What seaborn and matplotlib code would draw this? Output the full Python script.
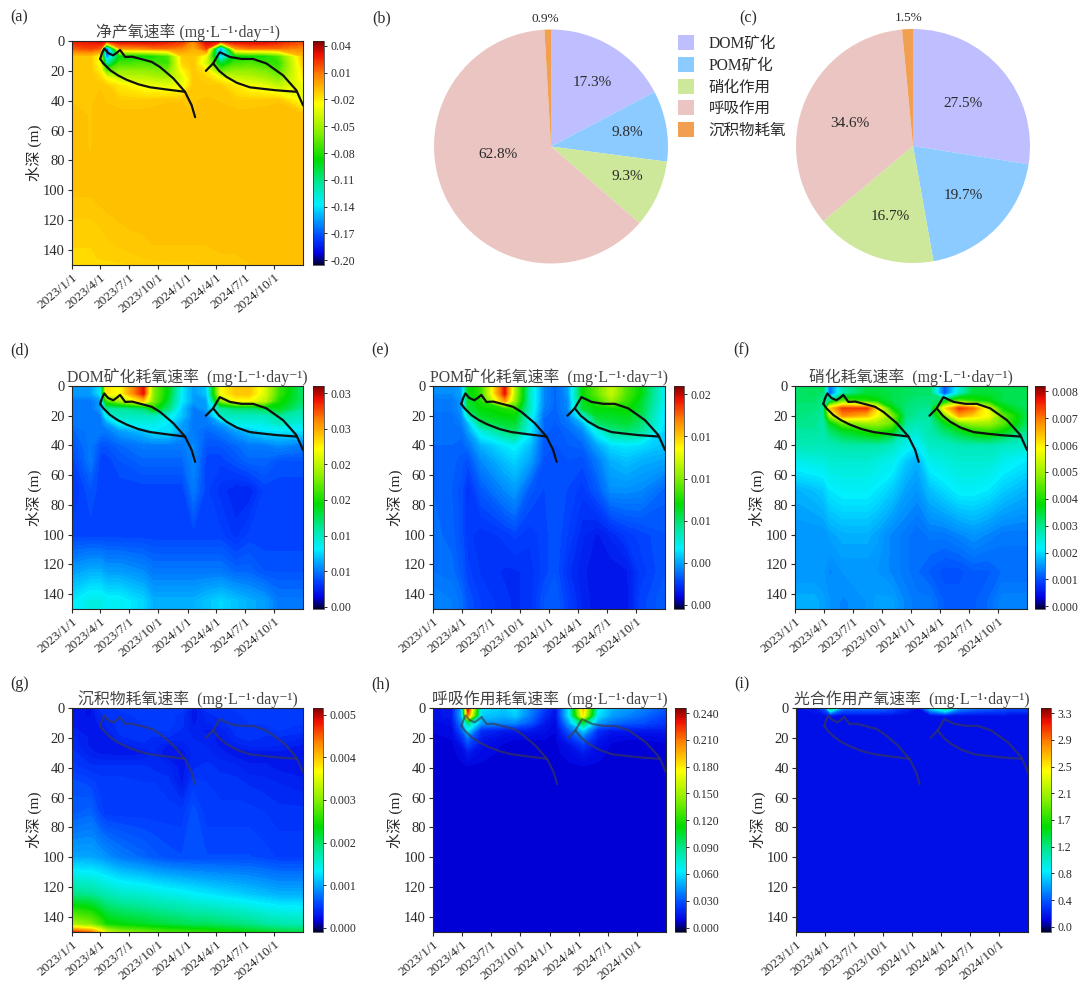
import numpy as np
import pandas as pd
import matplotlib
matplotlib.use("Agg")
import matplotlib.pyplot as plt
import seaborn as sns
from matplotlib.cm import ScalarMappable
from matplotlib.colors import LinearSegmentedColormap, Normalize

# grid the rates were read on
sample_dates = ["2023-01-01", "2023-03-01", "2023-04-01", "2023-04-20", "2023-06-01", "2023-08-15",
                "2023-09-15", "2023-11-01", "2023-12-15", "2024-01-20", "2024-03-01", "2024-04-15",
                "2024-06-01", "2024-07-15", "2024-09-01", "2024-10-15", "2024-12-31"]
depths = [0, 5, 10, 15, 20, 25, 30, 40, 50, 70, 100, 125, 145, 150]

tick_dates = ["2023-01-01", "2023-04-01", "2023-07-01", "2023-10-01",
              "2024-01-01", "2024-04-01", "2024-07-01", "2024-10-01"]
tick_labels = ["2023/1/1", "2023/4/1", "2023/7/1", "2023/10/1",
               "2024/1/1", "2024/4/1", "2024/7/1", "2024/10/1"]
depth_ticks = [0, 20, 40, 60, 80, 100, 120, 140]

# (a) net oxygen production, 0.001 mg/L/day
net_rate = [
    [28, 30, 35, 35, 35, 35, 35, 30, 25, 5, 35, 38, 35, 35, 35, 30, 20],
    [15, 20, 15, -185, 0, 5, 10, 10, 5, -5, 20, -170, 0, 10, 10, 10, 5],
    [-10, -10, -30, -170, -90, -88, -85, -70, -12, -10, -30, -150, -90, -88, -85, -70, -8],
    [-12, -11, -30, -120, -72, -70, -72, -75, -15, -11, -40, -100, -72, -70, -75, -78, -12],
    [-12, -11, -22, -70, -55, -55, -58, -60, -25, -11, -20, -65, -55, -55, -60, -70, -18],
    [-12, -11, -15, -25, -40, -42, -45, -48, -35, -11, -14, -25, -40, -42, -48, -58, -22],
    [-11, -11, -10, -12, -20, -28, -30, -32, -30, -11, -12, -12, -20, -28, -32, -42, -30],
    [-10, -10, -9, -10, -12, -12, -11, -10, -10, -10, -9, -10, -12, -12, -11, -10, -28],
    [-8, -10, -8, -8, -8, -8, -8, -8, -8, -10, -8, -8, -8, -8, -8, -8, -8],
    [-8, -10, -8, -8, -8, -8, -8, -8, -8, -9, -8, -8, -8, -8, -8, -8, -8],
    [-9, -9, -8, -8, -8, -8, -8, -8, -8, -8, -8, -8, -8, -8, -8, -8, -8],
    [-13, -13, -12, -11, -10, -9, -8, -8, -8, -8, -8, -8, -8, -8, -8, -8, -8],
    [-15, -15, -14, -14, -13, -12, -11, -11, -11, -11, -11, -10, -10, -9, -8, -8, -8],
    [-16, -16, -15, -15, -15, -14, -14, -13, -13, -13, -12, -12, -11, -10, -9, -9, -9],
]
# (d) DOM mineralisation, 0.001 mg/L/day
dom_rate = [
    [6, 6, 8, 23, 22, 29, 18, 14, 8, 6, 7, 22, 24, 24, 21, 16, 12],
    [6, 6, 8, 23, 22, 29, 18, 14, 8, 6, 7, 22, 24, 24, 21, 16, 12],
    [5, 5, 6, 16, 19, 24, 18, 13, 8, 6, 6, 18, 22, 22, 20, 15, 12],
    [5, 5, 6, 11, 11, 12, 15, 12, 7, 5, 6, 11, 12, 12, 13, 14, 11],
    [5, 5, 5, 8.5, 10, 10, 10, 9, 7, 5, 5, 10, 10, 10, 10, 11, 10],
    [5, 5, 5, 6, 8.5, 9, 9, 8, 6, 5, 5, 6, 9, 9, 9, 10, 9],
    [4.5, 5, 5, 5, 6, 7, 8, 8, 6, 5, 4.5, 5, 6, 7, 8, 8, 8],
    [4, 5, 4, 4, 4.5, 5, 5, 5, 5, 5.5, 4, 4, 4.5, 5, 5, 5.5, 5],
    [3.5, 5, 3.5, 3.5, 4, 4.5, 4.5, 4.5, 4.5, 5.5, 3.5, 3.5, 4, 4.5, 4.5, 4, 4],
    [3, 4, 3.5, 3.5, 3.5, 3.5, 3.5, 3.5, 3.5, 5, 3.5, 3, 2.6, 2.6, 3.5, 3.5, 3.5],
    [3.5, 3.5, 3.5, 3.5, 3.5, 3.5, 3.5, 3.5, 3.5, 3.5, 3.5, 3.5, 3, 3.5, 3.5, 3.5, 3.5],
    [6, 6.5, 6.5, 6, 6, 5.5, 5, 5, 5, 5, 5, 5, 4.5, 4.5, 4, 4, 4],
    [8, 9, 9, 8.5, 8.5, 7.5, 6.5, 6.5, 6.5, 6.5, 7, 7.5, 7, 6.5, 6, 5, 5],
    [8, 9, 9, 8.5, 8.5, 7.5, 6.5, 6.5, 6.5, 6.5, 7, 7.5, 7, 6.5, 6, 5, 5],
]
# (e) POM mineralisation, 0.0001 mg/L/day
pom_rate = [
    [35, 35, 40, 90, 105, 195, 130, 65, 35, 28, 38, 95, 115, 135, 110, 95, 55],
    [35, 35, 40, 90, 105, 195, 130, 65, 35, 28, 38, 95, 115, 135, 110, 95, 55],
    [32, 32, 37, 88, 100, 170, 125, 65, 35, 28, 35, 90, 105, 125, 105, 90, 55],
    [32, 32, 37, 85, 95, 100, 105, 65, 33, 28, 35, 88, 95, 95, 98, 88, 52],
    [30, 30, 35, 60, 90, 95, 95, 60, 30, 27, 33, 60, 90, 90, 92, 85, 50],
    [30, 30, 33, 42, 80, 88, 90, 58, 28, 27, 31, 42, 80, 85, 88, 80, 50],
    [30, 30, 30, 38, 60, 78, 82, 55, 28, 26, 28, 35, 58, 75, 80, 75, 48],
    [29, 29, 28, 30, 42, 52, 55, 45, 26, 25, 27, 28, 40, 50, 52, 50, 45],
    [29, 28, 26, 24, 35, 45, 48, 40, 25, 25, 25, 24, 32, 42, 45, 42, 40],
    [29, 27, 24, 18, 26, 35, 38, 26, 23, 25, 23, 20, 26, 36, 36, 35, 28],
    [30, 28, 24, 20, 18, 20, 22, 20, 22, 25, 21, 16, 13, 16, 20, 22, 25],
    [31, 30, 26, 22, 19, 17, 17, 18, 22, 25, 18, 14, 12, 12, 13, 20, 25],
    [35, 33, 30, 25, 21, 18, 17, 18, 25, 27, 21, 15, 12, 12, 12, 22, 27],
    [35, 33, 30, 25, 21, 18, 17, 18, 25, 27, 21, 15, 12, 12, 12, 22, 27],
]
# (f) nitrification, 0.0001 mg/L/day
nit_rate = [
    [32, 33, 33, 11, 28, 34, 34, 34, 33, 32, 32, 10, 24, 34, 34, 34, 34],
    [32, 33, 31, 11, 28, 35, 35, 34, 33, 32, 32, 10, 26, 35, 35, 34, 34],
    [32, 32, 30, 30, 45, 40, 38, 34, 32, 31, 31, 34, 45, 40, 38, 34, 33],
    [31, 31, 29, 62, 74, 74, 62, 38, 31, 30, 29, 60, 74, 70, 55, 38, 33],
    [31, 30, 29, 50, 68, 64, 58, 48, 31, 29, 29, 46, 66, 62, 58, 45, 33],
    [30, 30, 28, 36, 46, 50, 50, 46, 29, 27, 28, 36, 46, 50, 50, 45, 32],
    [29, 29, 28, 32, 36, 40, 42, 38, 27, 25, 28, 32, 36, 40, 42, 38, 30],
    [27, 27, 27, 27, 28, 28, 28, 26, 23, 21, 26, 26, 27, 27, 27, 26, 25],
    [23, 24, 24, 25, 25, 25, 24, 23, 19, 17, 23, 24, 25, 25, 25, 23, 21],
    [17, 18, 19, 21, 22, 22, 21, 19, 16, 15, 18, 20, 22, 22, 21, 19, 17],
    [15, 15, 15, 16, 17, 17, 16, 14, 13, 12, 13, 13, 14, 15, 14, 13, 13],
    [15, 15, 15, 14, 15, 15, 15, 14, 13, 12, 11, 10, 10, 11, 11, 12, 12],
    [17, 17, 16, 15, 14, 15, 16, 16, 14, 13, 13, 11, 11, 11, 12, 14, 14],
    [17, 17, 16, 15, 14, 15, 16, 16, 14, 13, 13, 11, 11, 11, 12, 14, 14],
]
# (g) sediment demand, 0.00001 mg/L/day
sed_rate = [
    [30, 28, 45, 45, 50, 50, 50, 50, 50, 30, 45, 45, 50, 50, 50, 50, 50],
    [30, 28, 40, 45, 45, 50, 50, 50, 45, 30, 40, 45, 45, 50, 50, 50, 50],
    [32, 30, 35, 40, 45, 48, 50, 50, 45, 32, 38, 42, 45, 48, 48, 50, 48],
    [35, 30, 30, 35, 45, 45, 48, 48, 42, 35, 32, 35, 45, 45, 45, 48, 45],
    [40, 32, 30, 30, 42, 45, 42, 42, 40, 38, 35, 32, 42, 45, 42, 42, 38],
    [42, 32, 28, 30, 32, 42, 42, 32, 36, 40, 38, 32, 35, 40, 40, 38, 32],
    [45, 35, 32, 32, 30, 32, 38, 28, 30, 40, 40, 35, 30, 30, 30, 32, 28],
    [50, 45, 45, 45, 45, 45, 42, 40, 30, 42, 45, 42, 40, 35, 35, 32, 30],
    [60, 55, 50, 50, 50, 48, 48, 45, 32, 50, 48, 45, 45, 42, 40, 38, 35],
    [65, 70, 55, 50, 50, 50, 50, 50, 50, 60, 50, 50, 50, 50, 48, 45, 45],
    [100, 100, 95, 90, 80, 70, 65, 60, 58, 58, 58, 58, 58, 58, 55, 52, 52],
    [190, 185, 175, 170, 160, 155, 150, 145, 140, 135, 130, 125, 120, 115, 110, 105, 105],
    [320, 300, 270, 245, 235, 225, 220, 215, 210, 205, 205, 200, 195, 190, 180, 175, 170],
    [470, 440, 390, 340, 310, 290, 280, 270, 265, 260, 255, 245, 240, 230, 225, 215, 210],
]
# (h) respiration, 0.001 mg/L/day
resp_rate = [
    [12, 15, 50, 235, 60, 55, 60, 40, 25, 12, 60, 190, 65, 50, 45, 40, 30],
    [12, 15, 50, 210, 55, 50, 55, 38, 20, 12, 60, 180, 60, 45, 40, 35, 25],
    [10, 12, 40, 90, 45, 40, 40, 30, 15, 10, 45, 100, 45, 35, 30, 28, 22],
    [9, 10, 30, 60, 20, 15, 15, 15, 12, 9, 30, 55, 20, 15, 15, 15, 15],
    [8, 9, 20, 35, 15, 10, 9, 9, 9, 8, 20, 35, 15, 10, 9, 9, 10],
    [8, 8, 12, 25, 12, 8, 8, 8, 8, 8, 12, 22, 12, 8, 8, 8, 8],
    [8, 8, 10, 15, 10, 8, 8, 8, 8, 8, 10, 15, 10, 8, 8, 8, 8],
    [8, 8, 8, 8, 8, 8, 8, 8, 8, 8, 8, 8, 8, 8, 8, 8, 8],
    [8, 8, 8, 8, 8, 8, 8, 8, 8, 8, 8, 8, 8, 8, 8, 8, 8],
    [8, 8, 8, 8, 8, 8, 8, 8, 8, 8, 8, 8, 8, 8, 8, 8, 8],
    [8, 8, 8, 8, 8, 8, 8, 8, 8, 8, 8, 8, 8, 8, 8, 8, 8],
    [8, 8, 8, 8, 8, 8, 8, 8, 8, 8, 8, 8, 8, 8, 8, 8, 8],
    [8, 8, 8, 8, 8, 8, 8, 8, 8, 8, 8, 8, 8, 8, 8, 8, 8],
    [8, 8, 8, 8, 8, 8, 8, 8, 8, 8, 8, 8, 8, 8, 8, 8, 8],
]
# (i) photosynthesis, 0.01 mg/L/day
photo_rate = [
    [16, 20, 40, 130, 50, 50, 50, 40, 25, 16, 80, 130, 60, 50, 45, 40, 35],
    [16, 16, 16, 18, 16, 16, 16, 16, 16, 16, 16, 18, 16, 16, 16, 16, 16],
    [16, 16, 16, 16, 16, 16, 16, 16, 16, 16, 16, 16, 16, 16, 16, 16, 16],
    [16, 16, 16, 16, 16, 16, 16, 16, 16, 16, 16, 16, 16, 16, 16, 16, 16],
    [16, 16, 16, 16, 16, 16, 16, 16, 16, 16, 16, 16, 16, 16, 16, 16, 16],
    [16, 16, 16, 16, 16, 16, 16, 16, 16, 16, 16, 16, 16, 16, 16, 16, 16],
    [16, 16, 16, 16, 16, 16, 16, 16, 16, 16, 16, 16, 16, 16, 16, 16, 16],
    [16, 16, 16, 16, 16, 16, 16, 16, 16, 16, 16, 16, 16, 16, 16, 16, 16],
    [16, 16, 16, 16, 16, 16, 16, 16, 16, 16, 16, 16, 16, 16, 16, 16, 16],
    [16, 16, 16, 16, 16, 16, 16, 16, 16, 16, 16, 16, 16, 16, 16, 16, 16],
    [16, 16, 16, 16, 16, 16, 16, 16, 16, 16, 16, 16, 16, 16, 16, 16, 16],
    [16, 16, 16, 16, 16, 16, 16, 16, 16, 16, 16, 16, 16, 16, 16, 16, 16],
    [16, 16, 16, 16, 16, 16, 16, 16, 16, 16, 16, 16, 16, 16, 16, 16, 16],
    [16, 16, 16, 16, 16, 16, 16, 16, 16, 16, 16, 16, 16, 16, 16, 16, 16],
]

# thermocline outlines
upper_2023_dates = ["2023-03-31", "2023-04-06", "2023-04-13", "2023-04-25", "2023-05-11", "2023-05-22", "2023-06-02",
                    "2023-06-18", "2023-07-10", "2023-08-15", "2023-09-10", "2023-10-06", "2023-11-17", "2023-12-24",
                    "2024-01-14", "2024-01-25"]
upper_2023_depth = [12, 8, 5, 8, 9.6, 8, 6, 10.7, 10.5, 12.5, 14, 17.4, 25, 34, 43, 51]
lower_2023_dates = ["2023-03-31", "2023-04-10", "2023-05-02", "2023-05-26", "2023-06-23", "2023-07-30", "2023-09-05",
                    "2023-10-28", "2023-12-24"]
lower_2023_depth = [12, 15, 19.6, 23, 26, 29, 31, 32.5, 34]
upper_2024_dates = ["2024-02-28", "2024-03-22", "2024-04-02", "2024-04-12", "2024-05-14", "2024-06-20", "2024-07-26",
                    "2024-09-06", "2024-10-29", "2024-12-10", "2024-12-31"]
upper_2024_depth = [20, 15, 11, 7.5, 10.7, 12, 12, 15, 23, 33, 43]
lower_2024_dates = ["2024-03-22", "2024-04-10", "2024-05-03", "2024-06-05", "2024-07-16", "2024-08-25", "2024-10-07",
                    "2024-12-10"]
lower_2024_depth = [15, 20, 24, 28, 31, 32, 33, 34]

# pies
process_names = ["DOM矿化", "POM矿化", "硝化作用", "呼吸作用", "沉积物耗氧"]
process_colors = ["#BFBFFF", "#8CCBFF", "#CDE89A", "#EBC5C1", "#F0A050"]
share_b = [17.3, 9.8, 9.3, 62.8, 0.9]
share_c = [27.5, 19.7, 16.7, 34.6, 1.5]

UNIT = "(mg·L⁻¹·day⁻¹)"
W, H = 1089, 983

sns.set_theme(style="ticks")
plt.rcParams["font.family"] = ["Liberation Serif", "Noto Sans CJK SC", "DejaVu Sans"]
plt.rcParams["axes.unicode_minus"] = False
plt.rcParams["text.color"] = "#2a2a2a"
plt.rcParams["axes.labelcolor"] = "#2a2a2a"
plt.rcParams["xtick.color"] = "#2a2a2a"
plt.rcParams["ytick.color"] = "#2a2a2a"

rate_cmap = LinearSegmentedColormap.from_list("rate", [
    (0.00, "#000030"), (0.05, "#0000e0"), (0.12, "#0040ff"), (0.27, "#00f0ff"), (0.36, "#00e8a0"),
    (0.47, "#00dc00"), (0.60, "#90f000"), (0.72, "#ffff00"), (0.85, "#ff8000"), (0.94, "#f01000"),
    (1.00, "#800000")])


def px_axes(fig, x0, y0, x1, y1):
    return fig.add_axes([x0 / W, 1 - y1 / H, (x1 - x0) / W, (y1 - y0) / H])


def draw_rate(fig, box, cbox, rate, scale, vmin, vmax, cticks, clabels, title, letter, letter_gap=24, dark=True):
    x0, y0, x1, y1 = box
    ax = px_axes(fig, *box)
    dates = pd.to_datetime(sample_dates)
    levels = np.linspace(vmin, vmax, 110)
    ax.contourf(dates, depths, np.array(rate) * scale, levels=levels, cmap=rate_cmap, extend="both")

    color = "#101010" if dark else "#3a3a50"
    alpha = 1.0 if dark else 0.65
    for d, z in [(upper_2023_dates, upper_2023_depth), (lower_2023_dates, lower_2023_depth),
                 (upper_2024_dates, upper_2024_depth), (lower_2024_dates, lower_2024_depth)]:
        sns.lineplot(x=pd.to_datetime(d), y=z, ax=ax, color=color, alpha=alpha, linewidth=1.6,
                     estimator=None, sort=False, legend=False)

    ax.set_xlim(pd.Timestamp("2023-01-01"), pd.Timestamp("2024-12-31"))
    ax.set_ylim(150, 0)
    ax.set_xticks(pd.to_datetime(tick_dates))
    ax.set_xticklabels(tick_labels, rotation=40, ha="right", rotation_mode="anchor", fontsize=9.6)
    ax.set_yticks(depth_ticks)
    ax.tick_params(axis="y", labelsize=10.5, length=3, width=0.8, pad=2)
    ax.tick_params(axis="x", length=3, width=0.8, pad=1.5)
    ax.set_xlabel("")
    ax.set_ylabel("水深 (m)", fontsize=11, labelpad=1)
    ax.set_title(title, fontsize=11.4, pad=3, color="#444444")
    for s in ax.spines.values():
        s.set_visible(True)
        s.set_linewidth(0.8)
    fig.text((x0 - 62) / W, 1 - (y0 - letter_gap) / H, letter, fontsize=11.5, va="center", ha="left")

    cax = px_axes(fig, *cbox)
    cb = fig.colorbar(ScalarMappable(Normalize(vmin, vmax), rate_cmap), cax=cax, ticks=cticks)
    cb.ax.set_yticklabels(clabels)
    cb.ax.tick_params(labelsize=8.5, length=2.5, width=0.7, pad=2)
    cb.outline.set_linewidth(0.5)
    return ax


def draw_pie(fig, box, shares, text_xy):
    ax = px_axes(fig, *box)
    wedges, _ = ax.pie(shares, colors=sns.color_palette(process_colors), startangle=90,
                       counterclock=False, wedgeprops={"linewidth": 0})
    for i, share in enumerate(shares):
        size = 11 if i < 4 else 9.5
        ax.text(text_xy[i][0], text_xy[i][1], f"{share:.1f}%", fontsize=size, ha="center", va="center")
    ax.set_xlim(-1, 1)
    ax.set_ylim(-1, 1)
    return wedges


fig = plt.figure(figsize=(W / 100, H / 100), dpi=100)

draw_rate(fig, (72, 41, 303, 265), (313, 41, 324, 265), net_rate, 1e-3, -0.2056, 0.0456,
          [0.04, 0.01, -0.02, -0.05, -0.08, -0.11, -0.14, -0.17, -0.20],
          ["0.04", "0.01", "-0.02", "-0.05", "-0.08", "-0.11", "-0.14", "-0.17", "-0.20"],
          "净产氧速率 " + UNIT, "(a)")
draw_rate(fig, (72, 386, 303, 609), (313, 386, 324, 609), dom_rate, 1e-3, -0.0003, 0.031,
          [0, 0.005, 0.01, 0.015, 0.02, 0.025, 0.03],
          ["0.00", "0.01", "0.01", "0.02", "0.02", "0.03", "0.03"],
          "DOM矿化耗氧速率  " + UNIT, "(d)", letter_gap=36)
draw_rate(fig, (433, 386, 665, 609), (674, 386, 684, 609), pom_rate, 1e-4, -0.0004, 0.0208,
          [0, 0.004, 0.008, 0.012, 0.016, 0.02],
          ["0.00", "0.00", "0.01", "0.01", "0.01", "0.02"],
          "POM矿化耗氧速率  " + UNIT, "(e)", letter_gap=36)
draw_rate(fig, (795, 386, 1027, 609), (1035, 386, 1045, 609), nit_rate, 1e-4, -0.0001, 0.0082,
          [0, 0.001, 0.002, 0.003, 0.004, 0.005, 0.006, 0.007, 0.008],
          ["0.000", "0.001", "0.002", "0.003", "0.004", "0.005", "0.006", "0.007", "0.008"],
          "硝化耗氧速率  " + UNIT, "(f)", letter_gap=36)
draw_rate(fig, (72, 708, 303, 932), (313, 708, 323, 932), sed_rate, 1e-5, -0.0001, 0.00516,
          [0, 0.001, 0.002, 0.003, 0.004, 0.005],
          ["0.000", "0.001", "0.002", "0.003", "0.004", "0.005"],
          "沉积物耗氧速率  " + UNIT, "(g)", dark=False)
draw_rate(fig, (433, 708, 666, 932), (675, 708, 686, 932), resp_rate, 1e-3, -0.005, 0.2456,
          [0, 0.03, 0.06, 0.09, 0.12, 0.15, 0.18, 0.21, 0.24],
          ["0.000", "0.030", "0.060", "0.090", "0.120", "0.150", "0.180", "0.210", "0.240"],
          "呼吸作用耗氧速率  " + UNIT, "(h)", dark=False)
draw_rate(fig, (796, 708, 1028, 932), (1041, 708, 1051, 932), photo_rate, 1e-2, -0.08, 3.38,
          [0, 0.4125, 0.825, 1.2375, 1.65, 2.0625, 2.475, 2.8875, 3.3],
          ["0.0", "0.4", "0.8", "1.2", "1.7", "2.1", "2.5", "2.9", "3.3"],
          "光合作用产氧速率  " + UNIT, "(i)", dark=False)

wedges = draw_pie(fig, (434, 29, 668, 264), share_b,
                  [(0.35, 0.55), (0.65, 0.12), (0.65, -0.26), (-0.45, -0.07), (-0.05, 1.09)])
draw_pie(fig, (796, 29, 1030, 263), share_c,
         [(0.43, 0.36), (0.43, -0.42), (-0.19, -0.60), (-0.54, 0.19), (-0.04, 1.09)])

fig.text(382 / W, 1 - 18 / H, "(b)", fontsize=11.5, va="center", ha="center")
fig.text(748 / W, 1 - 18 / H, "(c)", fontsize=11.5, va="center", ha="center")

fig.legend(wedges, process_names, loc="upper left", bbox_to_anchor=(675 / W, 1 - 32 / H), frameon=False,
           fontsize=11.2, handlelength=1.05, handleheight=1.1, labelspacing=0.32, handletextpad=0.9,
           borderaxespad=0, borderpad=0.2)

fig.savefig("out.png", dpi=100)
